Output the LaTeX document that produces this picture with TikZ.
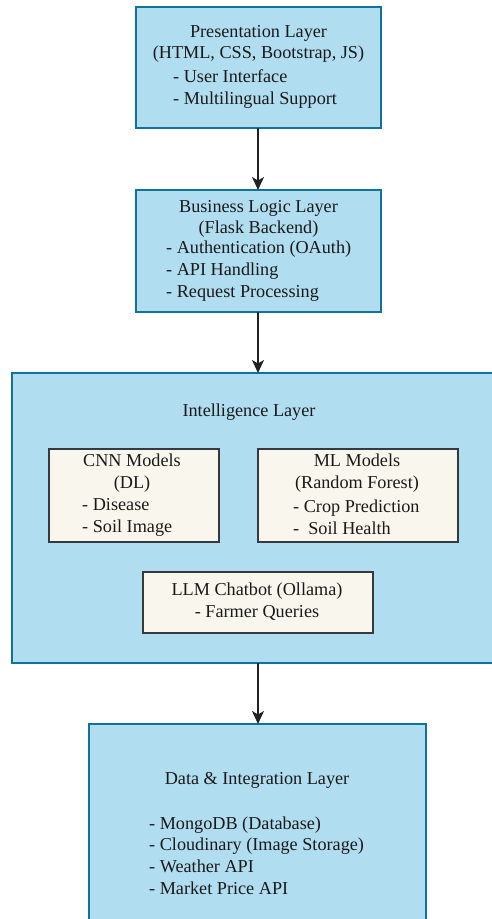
\documentclass[tikz,border=0pt]{standalone}
\usepackage{fontspec}
\setmainfont{Liberation Serif}
\usetikzlibrary{arrows.meta}
\definecolor{layerfill}{HTML}{B1DDF0}
\definecolor{layerdraw}{HTML}{10739E}
\definecolor{subfill}{HTML}{F9F7ED}
\definecolor{subdraw}{HTML}{36393D}
\definecolor{txtcol}{HTML}{1A1A1A}
\definecolor{arrcol}{HTML}{222222}
\newcommand{\fs}{\fontsize{18.2pt}{21.8pt}\selectfont}
\tikzset{
  layer/.style={draw=layerdraw, fill=layerfill, line width=1.2pt},
  sub/.style={draw=subdraw, fill=subfill, line width=1.1pt},
  ctext/.style={font=\fs, align=center, inner sep=0pt, text=txtcol},
  ltext/.style={font=\fs, align=left, inner sep=0pt, anchor=west, text=txtcol},
  flow/.style={draw=arrcol, line width=1.6pt, -{Stealth[length=13pt,width=12pt,inset=3.5pt]}}
}
\begin{document}
\begin{tikzpicture}[x=1pt,y=-1pt]
\useasboundingbox (0,0) rectangle (491,919);
% boxes
\path[layer] (136,7) rectangle (381,128);
\coordinate (presS) at (258,128);
\path[layer] (136,190) rectangle (381,312);
\coordinate (bizN) at (258,190);
\coordinate (bizS) at (258,312);
\path[layer] (12,373) rectangle (494,663);
\coordinate (intN) at (258,373);
\coordinate (intS) at (258,663);
\path[layer] (89,724) rectangle (426,923);
\coordinate (datN) at (258,724);
\path[sub] (49,449) rectangle (219,542);
\path[sub] (258,449) rectangle (458,542);
\path[sub] (143,572) rectangle (373,633);

% texts
\node[ctext] (presT) at (258.5,44) {Presentation Layer\\(HTML, CSS, Bootstrap, JS)};
\node[ltext] (presB) at (173,89) {- User Interface\\- Multilingual Support};

\node[ctext] (bizT) at (258.5,219) {Business Logic Layer\\(Flask Backend)};
\node[ltext] (bizB) at (166,271) {- Authentication (OAuth)\\- API Handling\\- Request Processing};

\node[ctext] (intT) at (249,412) {Intelligence Layer};

\node[ctext] (cnnT) at (132,473) {CNN Models\\(DL)};
\node[ltext] (cnnB) at (82,517.5) {- Disease\\- Soil Image};

\node[ctext] (mlT) at (357,473) {ML Models\\(Random Forest)};
\node[ltext] (mlB) at (293,517.5) {- Crop Prediction\\-\ \ Soil Health};

\node[ctext] (llmT) at (257,601.5) {LLM Chatbot (Ollama)\\- Farmer Queries};

\node[ctext] (datT) at (257,780) {Data \& Integration Layer};
\node[ltext] (datB) at (149,855.5) {- MongoDB (Database)\\- Cloudinary (Image Storage)\\- Weather API\\- Market Price API};

% arrows
\draw[flow] (presS) -- (bizN);
\draw[flow] (bizS) -- (intN);
\draw[flow] (intS) -- (datN);
\end{tikzpicture}
\end{document}
